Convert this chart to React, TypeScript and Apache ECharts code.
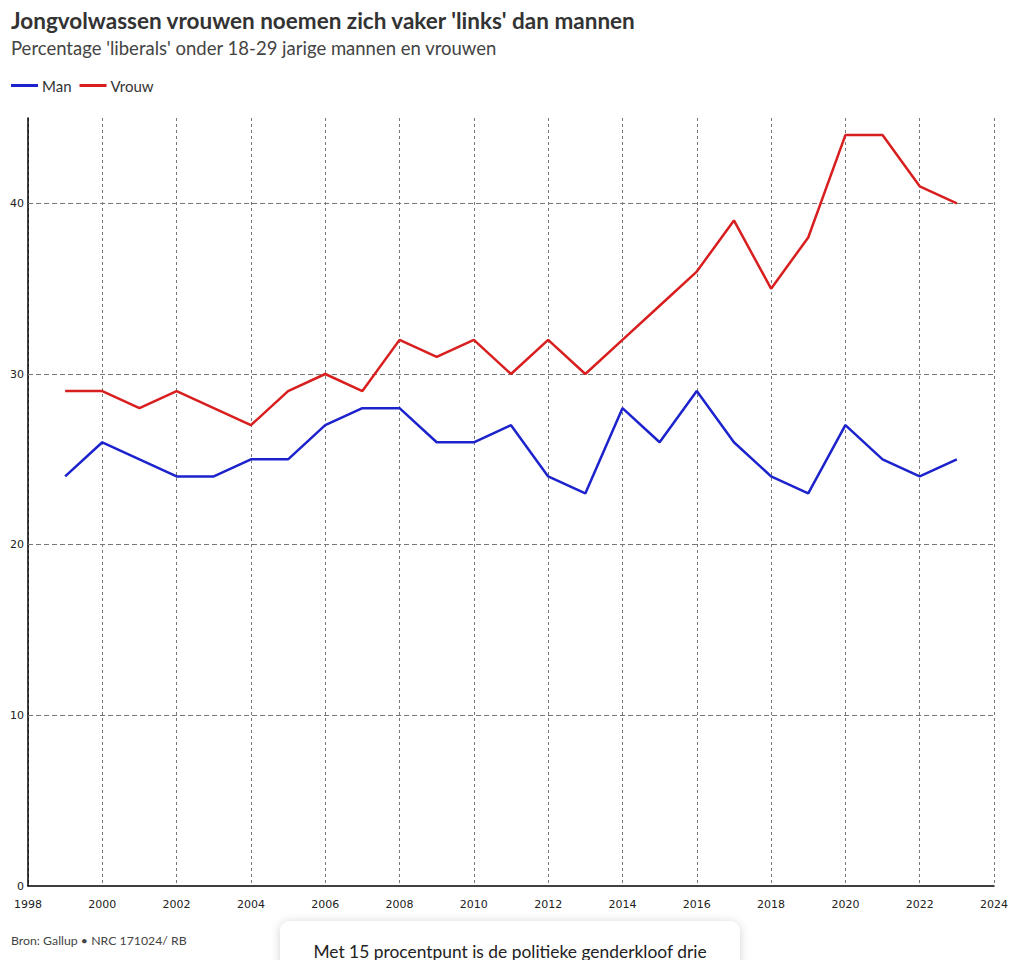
import React, { useEffect, useRef } from "react";
import * as echarts from "echarts";

const years = [1999, 2000, 2001, 2002, 2003, 2004, 2005, 2006, 2007, 2008, 2009, 2010, 2011, 2012, 2013, 2014, 2015, 2016, 2017, 2018, 2019, 2020, 2021, 2022, 2023];
const manValues = [24, 26, 25, 24, 24, 25, 25, 27, 28, 28, 26, 26, 27, 24, 23, 28, 26, 29, 26, 24, 23, 27, 25, 24, 25];
const vrouwValues = [29, 29, 28, 29, 28, 27, 29, 30, 29, 32, 31, 32, 30, 32, 30, 32, 34, 36, 39, 35, 38, 44, 44, 41, 40];
const yGridValues = [10, 20, 30, 40];

const titleText = "Jongvolwassen vrouwen noemen zich vaker 'links' dan mannen";
const subtitleText = "Percentage 'liberals' onder 18-29 jarige mannen en vrouwen";
const sourceText = "Bron: Gallup • NRC 171024/ RB";
const noteText = "Met 15 procentpunt is de politieke genderkloof drie";

const BLUE = "#1c22cc";
const RED = "#d81e1e";
const UI_FONT = "Lato, 'Noto Sans', sans-serif";
const AXIS_FONT = "'DejaVu Sans', sans-serif";

export default function App() {
  const ref = useRef<HTMLDivElement>(null);

  useEffect(() => {
    document.body.style.margin = "0";
    const chart = echarts.init(ref.current!, null, { renderer: "svg" });
    const pair = (vals: number[]) => years.map((y, i) => [y, vals[i]]);
    chart.setOption({
      animation: false,
      backgroundColor: "#ffffff",
      title: {
        text: titleText,
        subtext: subtitleText,
        left: 11,
        top: 9,
        itemGap: 6,
        padding: 0,
        textStyle: { fontFamily: UI_FONT, fontSize: 22.5, fontWeight: "bold", color: "#333333" },
        subtextStyle: { fontFamily: UI_FONT, fontSize: 18.5, color: "#444444" },
      },
      legend: {
        data: ["Man", "Vrouw"],
        left: 11,
        top: 78,
        padding: 0,
        icon: "rect",
        itemWidth: 27,
        itemHeight: 3,
        itemGap: 8,
        textStyle: { fontFamily: UI_FONT, fontSize: 15, color: "#333333", padding: [0, 0, 0, -1] },
      },
      grid: { left: 28, right: 26, top: 118, bottom: 74, containLabel: false },
      xAxis: {
        type: "value",
        min: 1998,
        max: 2024,
        interval: 2,
        axisLine: { show: true, lineStyle: { color: "#000000", width: 1.5 } },
        axisTick: { show: false },
        axisLabel: {
          formatter: (v: number) => String(v),
          fontFamily: AXIS_FONT,
          fontSize: 11,
          color: "#222222",
          margin: 13,
        },
        splitLine: { show: true, lineStyle: { type: [3, 3], color: "#777777", width: 1 } },
      },
      yAxis: {
        type: "value",
        min: 0,
        max: 45,
        interval: 10,
        axisLine: { show: true, lineStyle: { color: "#000000", width: 1.5 } },
        axisTick: { show: false },
        axisLabel: {
          showMaxLabel: false,
          fontFamily: AXIS_FONT,
          fontSize: 11,
          color: "#222222",
          margin: 4,
        },
        splitLine: { show: false },
      },
      series: [
        {
          name: "Man",
          type: "line",
          data: pair(manValues),
          showSymbol: false,
          symbol: "none",
          lineStyle: { color: BLUE, width: 2.5 },
          itemStyle: { color: BLUE },
          z: 3,
          markLine: {
            silent: true,
            symbol: "none",
            label: { show: false },
            lineStyle: { type: [5, 3], color: "#777777", width: 1 },
            data: yGridValues.map((v) => ({ yAxis: v })),
            z: 1,
          },
        },
        {
          name: "Vrouw",
          type: "line",
          data: pair(vrouwValues),
          showSymbol: false,
          symbol: "none",
          lineStyle: { color: RED, width: 2.5 },
          itemStyle: { color: RED },
          z: 3,
        },
      ],
      graphic: [
        {
          type: "text",
          left: 11,
          top: 934,
          style: { text: sourceText, fontFamily: UI_FONT, fontSize: 12.3, fill: "#444444" },
        },
        {
          type: "rect",
          shape: { x: 280, y: 921, width: 460, height: 70, r: 10 },
          style: { fill: "#ffffff", shadowBlur: 10, shadowColor: "rgba(0,0,0,0.18)", shadowOffsetY: 1 },
          z: 10,
        },
        {
          type: "text",
          x: 510,
          y: 951,
          style: {
            text: noteText,
            fontFamily: UI_FONT,
            fontSize: 17.4,
            fill: "#222222",
            align: "center",
            verticalAlign: "middle",
          },
          z: 11,
        },
      ],
    });
    return () => chart.dispose();
  }, []);

  return <div ref={ref} style={{ width: 1020, height: 960 }} />;
}
